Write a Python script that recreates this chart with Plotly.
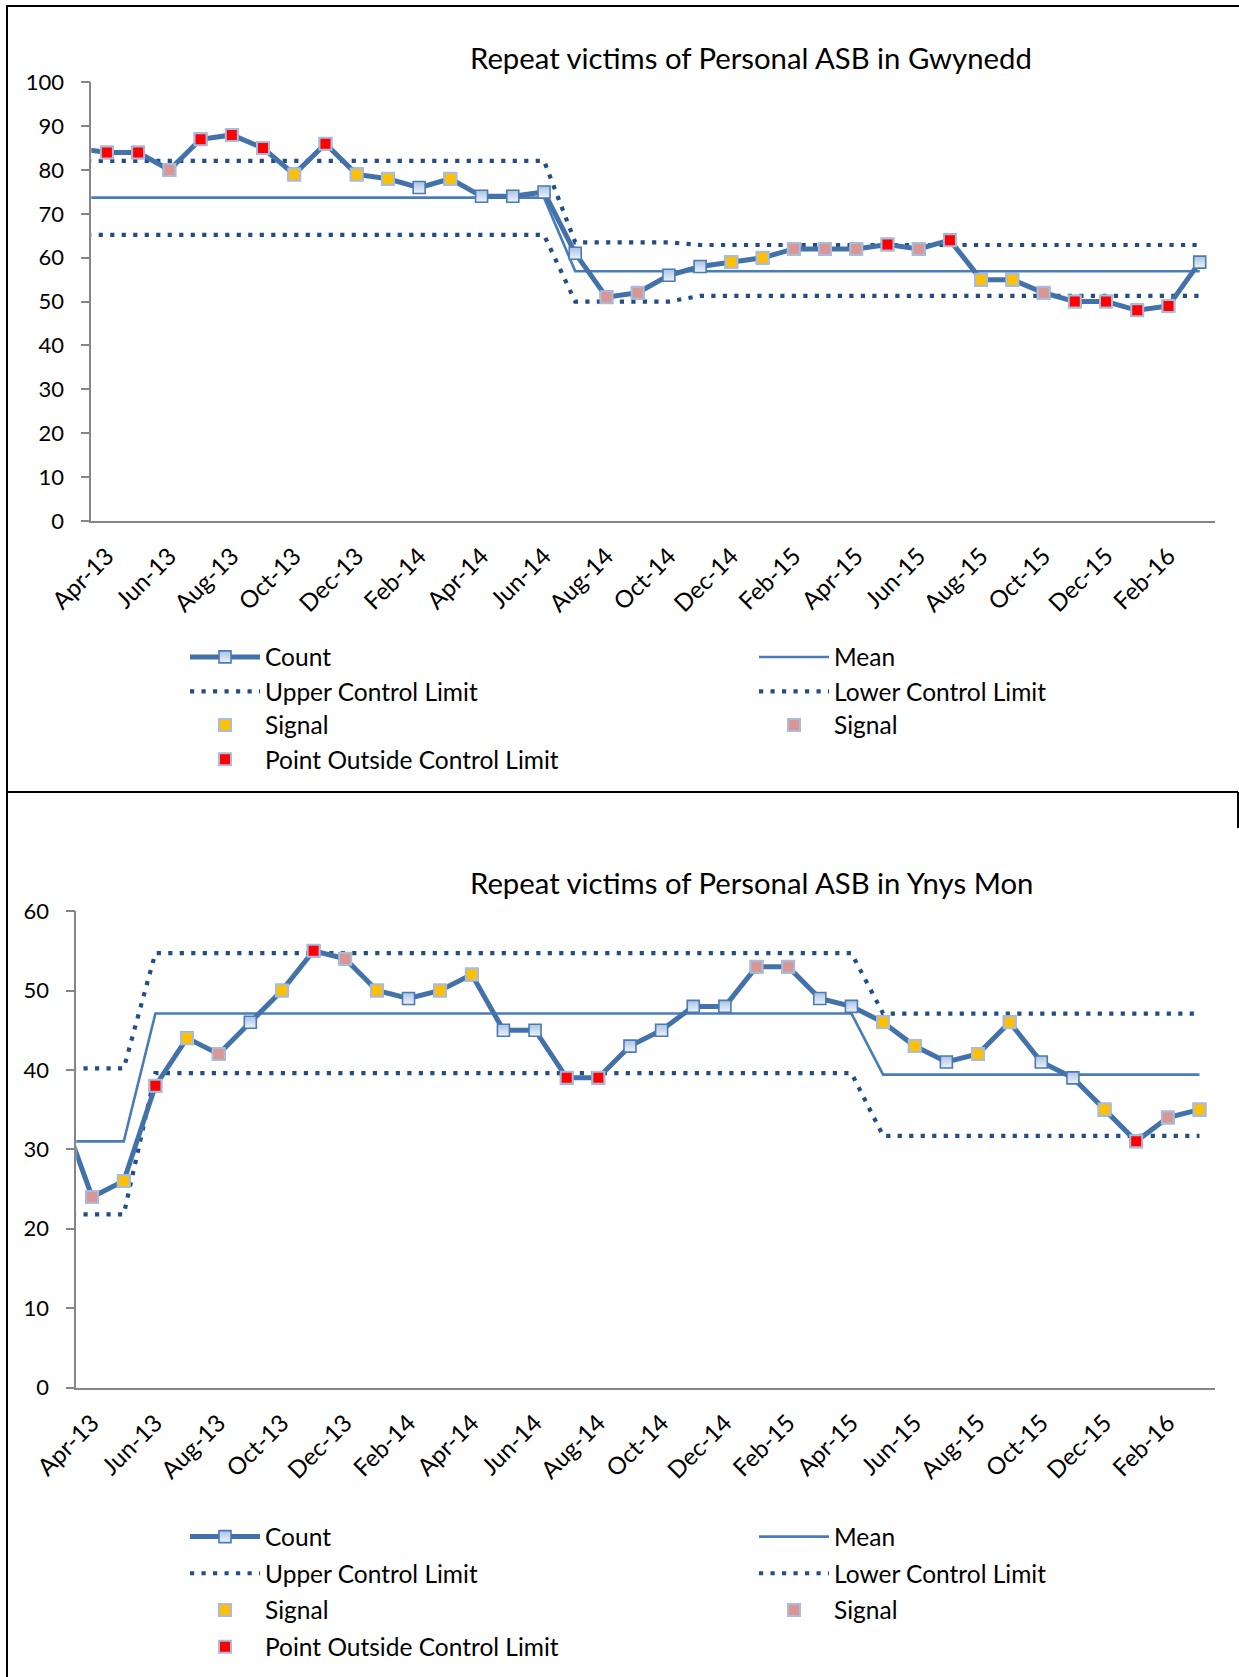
import plotly.graph_objects as go

W, H = 1239, 1677

# ---------------- data ----------------
months = ["Mar-13", "Apr-13", "May-13", "Jun-13", "Jul-13", "Aug-13", "Sep-13", "Oct-13", "Nov-13",
          "Dec-13", "Jan-14", "Feb-14", "Mar-14", "Apr-14", "May-14", "Jun-14", "Jul-14", "Aug-14",
          "Sep-14", "Oct-14", "Nov-14", "Dec-14", "Jan-15", "Feb-15", "Mar-15", "Apr-15", "May-15",
          "Jun-15", "Jul-15", "Aug-15", "Sep-15", "Oct-15", "Nov-15", "Dec-15", "Jan-16", "Feb-16",
          "Mar-16"]
tick_labels = ["Apr-13", "Jun-13", "Aug-13", "Oct-13", "Dec-13", "Feb-14", "Apr-14", "Jun-14",
               "Aug-14", "Oct-14", "Dec-14", "Feb-15", "Apr-15", "Jun-15", "Aug-15", "Oct-15",
               "Dec-15", "Feb-16"]

# Gwynedd
gw_count = [85, 84, 84, 80, 87, 88, 85, 79, 86, 79, 78, 76, 78, 74, 74, 75, 61, 51, 52, 56, 58, 59,
            60, 62, 62, 62, 63, 62, 64, 55, 55, 52, 50, 50, 48, 49, 59]
gw_mean = [73.7, 73.7, 73.7, 73.7, 73.7, 73.7, 73.7, 73.7, 73.7, 73.7, 73.7, 73.7, 73.7, 73.7, 73.7,
           73.7, 56.9, 56.9, 56.9, 56.9, 56.9, 56.9, 56.9, 56.9, 56.9, 56.9, 56.9, 56.9, 56.9, 56.9,
           56.9, 56.9, 56.9, 56.9, 56.9, 56.9, 56.9]
gw_ucl = [82.1, 82.1, 82.1, 82.1, 82.1, 82.1, 82.1, 82.1, 82.1, 82.1, 82.1, 82.1, 82.1, 82.1, 82.1,
          82.1, 63.5, 63.5, 63.5, 63.5, 62.9, 62.9, 62.9, 62.9, 62.9, 62.9, 62.9, 62.9, 62.9, 62.9,
          62.9, 62.9, 62.9, 62.9, 62.9, 62.9, 62.9]
gw_lcl = [65.2, 65.2, 65.2, 65.2, 65.2, 65.2, 65.2, 65.2, 65.2, 65.2, 65.2, 65.2, 65.2, 65.2, 65.2,
          65.2, 50.0, 50.0, 50.0, 50.0, 51.3, 51.3, 51.3, 51.3, 51.3, 51.3, 51.3, 51.3, 51.3, 51.3,
          51.3, 51.3, 51.3, 51.3, 51.3, 51.3, 51.3]
# point flags: y = signal (amber), p = signal (pink), r = outside control limit, n = none, - = lead-in
gw_flags = ["-", "r", "r", "p", "r", "r", "r", "y", "r", "y", "y", "n", "y", "n", "n", "n", "n",
            "p", "p", "n", "n", "y", "y", "p", "p", "p", "r", "p", "r", "y", "y", "p", "r", "r",
            "r", "r", "n"]

# Ynys Mon
yn_count = [35, 24, 26, 38, 44, 42, 46, 50, 55, 54, 50, 49, 50, 52, 45, 45, 39, 39, 43, 45, 48, 48,
            53, 53, 49, 48, 46, 43, 41, 42, 46, 41, 39, 35, 31, 34, 35]
yn_mean = [31.0, 31.0, 31.0, 47.1, 47.1, 47.1, 47.1, 47.1, 47.1, 47.1, 47.1, 47.1, 47.1, 47.1, 47.1,
           47.1, 47.1, 47.1, 47.1, 47.1, 47.1, 47.1, 47.1, 47.1, 47.1, 47.1, 39.4, 39.4, 39.4, 39.4,
           39.4, 39.4, 39.4, 39.4, 39.4, 39.4, 39.4]
yn_ucl = [40.2, 40.2, 40.2, 54.7, 54.7, 54.7, 54.7, 54.7, 54.7, 54.7, 54.7, 54.7, 54.7, 54.7, 54.7,
          54.7, 54.7, 54.7, 54.7, 54.7, 54.7, 54.7, 54.7, 54.7, 54.7, 54.7, 47.1, 47.1, 47.1, 47.1,
          47.1, 47.1, 47.1, 47.1, 47.1, 47.1, 47.1]
yn_lcl = [21.8, 21.8, 21.8, 39.6, 39.6, 39.6, 39.6, 39.6, 39.6, 39.6, 39.6, 39.6, 39.6, 39.6, 39.6,
          39.6, 39.6, 39.6, 39.6, 39.6, 39.6, 39.6, 39.6, 39.6, 39.6, 39.6, 31.7, 31.7, 31.7, 31.7,
          31.7, 31.7, 31.7, 31.7, 31.7, 31.7, 31.7]
yn_flags = ["-", "p", "y", "r", "y", "p", "n", "y", "r", "p", "y", "n", "y", "y", "n", "n", "r",
            "r", "n", "n", "n", "n", "p", "p", "n", "n", "y", "y", "n", "y", "y", "n", "n", "y",
            "r", "p", "y"]

titles = ["Repeat victims of Personal ASB in Gwynedd", "Repeat victims of Personal ASB in Ynys Mon"]

# ---------------- styling ----------------
FONT = "Lato"
LINE_BLUE = "#4272A9"
MEAN_BLUE = "#4A7CB8"
DOT_BLUE = "#234D84"
AXIS_GREY = "#868686"
C_YELLOW = "#FFC000"
C_PINK = "#D99694"
C_RED = "#FF0000"
MK_BORDER = "#A9BCDB"


def px_x(x):
    return x / W


def px_y(y):
    return 1 - y / H


charts = [
    dict(count=gw_count, mean=gw_mean, ucl=gw_ucl, lcl=gw_lcl, flags=gw_flags, title=titles[0],
         xdom=(91.3, 1215.3), ydom=(82.3, 520.8), yrange=(0, 100), title_y=58,
         leg_rows=(657, 691.5, 725, 759.3)),
    dict(count=yn_count, mean=yn_mean, ucl=yn_ucl, lcl=yn_lcl, flags=yn_flags, title=titles[1],
         xdom=(76.3, 1215.3), ydom=(911.1, 1387.5), yrange=(0, 60), title_y=882,
         leg_rows=(1536.7, 1573.3, 1610, 1646.7)),
]

LEFT_COL, RIGHT_COL = 185, 754

fig = go.Figure()
layout = dict(
    width=W, height=H, autosize=False,
    margin=dict(l=0, r=0, t=0, b=0, pad=0, autoexpand=False),
    paper_bgcolor="white", plot_bgcolor="white",
    font=dict(family=FONT, size=22, color="black"),
    showlegend=True,
    annotations=[], shapes=[],
)

leg_counter = [0]


def next_legend():
    leg_counter[0] += 1
    return "legend" if leg_counter[0] == 1 else "legend%d" % leg_counter[0]


for ci, ch in enumerate(charts):
    sfx = "" if ci == 0 else str(ci + 1)
    xa, ya = "x" + sfx, "y" + sfx
    r = ch["leg_rows"]
    place = {
        "Count": (LEFT_COL, r[0]), "Mean": (RIGHT_COL, r[0]),
        "Upper Control Limit": (LEFT_COL, r[1]), "Lower Control Limit": (RIGHT_COL, r[1]),
        "SignalY": (LEFT_COL, r[2]), "SignalP": (RIGHT_COL, r[2]),
        "Point Outside Control Limit": (LEFT_COL, r[3]),
    }

    def add(trace, key):
        lg = next_legend()
        trace.legend = lg
        fig.add_trace(trace)
        lx, ly = place[key]
        layout[lg] = dict(x=px_x(lx), y=px_y(ly), xanchor="left", yanchor="middle",
                          orientation="v", bgcolor="rgba(0,0,0,0)", itemwidth=70,
                          font=dict(family=FONT, size=24.5, color="black"),
                          itemclick=False, itemdoubleclick=False, tracegroupgap=0)

    add(go.Scatter(x=months, y=ch["mean"], name="Mean", mode="lines",
                   line=dict(color=MEAN_BLUE, width=2.6), xaxis=xa, yaxis=ya), "Mean")
    add(go.Scatter(x=months, y=ch["ucl"], name="Upper Control Limit", mode="lines",
                   line=dict(color=DOT_BLUE, width=4.2, dash="4.2px,7.3px"), xaxis=xa, yaxis=ya),
        "Upper Control Limit")
    add(go.Scatter(x=months, y=ch["lcl"], name="Lower Control Limit", mode="lines",
                   line=dict(color=DOT_BLUE, width=4.2, dash="4.2px,7.3px"), xaxis=xa, yaxis=ya),
        "Lower Control Limit")
    add(go.Scatter(x=months, y=ch["count"], name="Count", mode="lines+markers",
                   line=dict(color=LINE_BLUE, width=5),
                   marker=dict(symbol="square", size=12, color="#A9C2E4",
                               gradient=dict(type="vertical", color="#EEF3FA"),
                               line=dict(color="#4A79B4", width=1.6)),
                   xaxis=xa, yaxis=ya), "Count")

    for flag, colr, name, key in (("y", C_YELLOW, "Signal", "SignalY"),
                                  ("p", C_PINK, "Signal", "SignalP"),
                                  ("r", C_RED, "Point Outside Control Limit",
                                   "Point Outside Control Limit")):
        vals = [v if f == flag else None for v, f in zip(ch["count"], ch["flags"])]
        add(go.Scatter(x=months, y=vals, name=name, mode="markers",
                       marker=dict(symbol="square", size=12, color=colr,
                                   line=dict(color=MK_BORDER, width=2)),
                       xaxis=xa, yaxis=ya), key)

    axis_x = dict(
        domain=[px_x(ch["xdom"][0]), px_x(ch["xdom"][1])],
        type="category", categoryorder="array", categoryarray=months,
        range=[0.5, len(months) - 0.5],
        tickmode="array", tickvals=tick_labels, ticktext=tick_labels, tickangle=-45,
        ticks="", showline=True, linecolor=AXIS_GREY, linewidth=1.6, mirror=False,
        showgrid=False, zeroline=False, anchor=ya, automargin=False,
        tickfont=dict(family=FONT, size=24, color="black"), ticklabelstandoff=10,
        fixedrange=True,
    )
    axis_y = dict(
        domain=[px_y(ch["ydom"][1]), px_y(ch["ydom"][0])],
        range=list(ch["yrange"]), dtick=10, tick0=0,
        ticks="outside", ticklen=9, tickwidth=1.6, tickcolor=AXIS_GREY,
        showline=True, linecolor=AXIS_GREY, linewidth=1.6,
        showgrid=False, zeroline=False, anchor=xa, automargin=False,
        tickfont=dict(family=FONT, size=22, color="black"), ticklabelstandoff=12,
        fixedrange=True,
    )
    layout["xaxis" + sfx] = axis_x
    layout["yaxis" + sfx] = axis_y

    layout["annotations"].append(dict(
        text=ch["title"], x=px_x(751), y=px_y(ch["title_y"]), xref="paper", yref="paper",
        xanchor="center", yanchor="middle", showarrow=False,
        font=dict(family=FONT, size=29.3, color="black")))

# frame lines around the two chart boxes
frame = [
    (6, 6, W, 6),          # top of first box
    (7, 6, 7, H),          # left edge running down both boxes
    (7, 792, 1238, 792),   # top of second box
    (1238, 792, 1238, 828),
]
for x0, y0, x1, y1 in frame:
    layout["shapes"].append(dict(type="line", xref="paper", yref="paper",
                                 x0=px_x(x0), y0=px_y(y0), x1=px_x(x1), y1=px_y(y1),
                                 line=dict(color="black", width=2)))

fig.update_layout(**layout)
fig.write_html("out.html", config={"displayModeBar": False, "responsive": False},
               post_script="document.body.style.margin='0px';document.body.style.overflow='hidden';")
